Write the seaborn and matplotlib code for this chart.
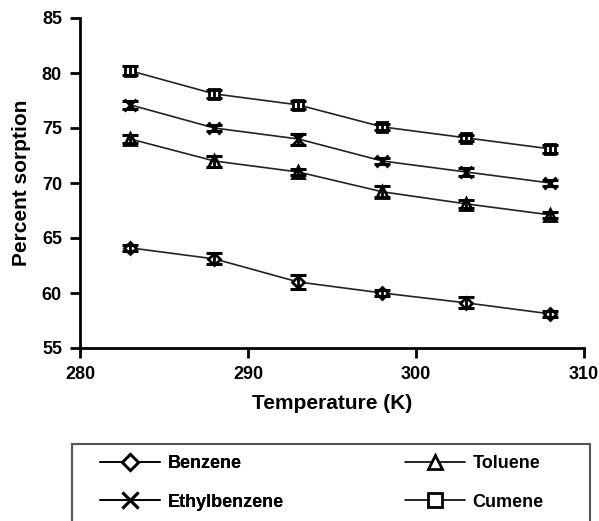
import matplotlib
matplotlib.use("Agg")
import matplotlib.pyplot as plt
from matplotlib.lines import Line2D
from matplotlib.patches import Rectangle
import seaborn as sns
import pandas as pd

# Sorption data
temperature = [283, 288, 293, 298, 303, 308]
compounds = ["Benzene", "Toluene", "Ethylbenzene", "Cumene"]
benzene = [64.1, 63.1, 61.0, 60.0, 59.1, 58.1]
toluene = [74.0, 72.0, 71.0, 69.2, 68.1, 67.1]
ethylbenzene = [77.1, 75.0, 74.0, 72.0, 71.0, 70.0]
cumene = [80.2, 78.1, 77.1, 75.1, 74.1, 73.1]
benzene_err = [0.3, 0.5, 0.6, 0.3, 0.5, 0.3]
toluene_err = [0.4, 0.5, 0.3, 0.5, 0.4, 0.3]
ethylbenzene_err = [0.4, 0.3, 0.5, 0.3, 0.4, 0.3]
cumene_err = [0.4, 0.4, 0.4, 0.3, 0.3, 0.4]
x_ticks = [280, 290, 300, 310]
y_ticks = [55, 60, 65, 70, 75, 80, 85]

values = {"Benzene": benzene, "Toluene": toluene,
          "Ethylbenzene": ethylbenzene, "Cumene": cumene}
errors = {"Benzene": benzene_err, "Toluene": toluene_err,
          "Ethylbenzene": ethylbenzene_err, "Cumene": cumene_err}
markers = {"Benzene": "D", "Toluene": "^", "Ethylbenzene": "x", "Cumene": "s"}
msizes = {"Benzene": 6, "Toluene": 8, "Ethylbenzene": 9, "Cumene": 7.5}

rows = []
for c in compounds:
    for t, v in zip(temperature, values[c]):
        rows.append({"Temperature": t, "Sorption": v, "Compound": c})
df = pd.DataFrame(rows)

sns.set_theme(style="ticks")
plt.rcParams["font.family"] = ["Liberation Sans", "DejaVu Sans"]
plt.rcParams["font.weight"] = "bold"
plt.rcParams["text.color"] = "black"
plt.rcParams["axes.labelcolor"] = "black"
plt.rcParams["xtick.color"] = "black"
plt.rcParams["ytick.color"] = "black"

fig = plt.figure(figsize=(5.99, 5.21), dpi=100)
ax = fig.add_axes([80 / 599, 1 - 348 / 521, (584 - 80) / 599, (348 - 18) / 521])

for c in compounds:
    sub = df[df["Compound"] == c]
    sns.lineplot(data=sub, x="Temperature", y="Sorption", ax=ax, color="#222222",
                 linewidth=1.2, legend=False, zorder=2)
    ax.plot(temperature, values[c], linestyle="none", marker=markers[c],
            markersize=msizes[c], markerfacecolor="white",
            markeredgecolor="black", markeredgewidth=2.0, zorder=3)
    ax.errorbar(temperature, values[c], yerr=errors[c], fmt="none",
                ecolor="black", elinewidth=2.0, capsize=6, capthick=2.2, zorder=4)

ax.set_xlim(280, 310)
ax.set_ylim(55, 85)
ax.set_xticks(x_ticks)
ax.set_yticks(y_ticks)
ax.tick_params(axis="both", labelsize=13, width=2, length=7, colors="black",
               pad=6)
for lbl in ax.get_xticklabels() + ax.get_yticklabels():
    lbl.set_fontweight("bold")
ax.set_xlabel("Temperature (K)", fontsize=15, fontweight="bold", labelpad=8,
              color="black")
ax.set_ylabel("Percent sorption", fontsize=15, fontweight="bold", labelpad=8,
              color="black")
for side in ["left", "bottom"]:
    ax.spines[side].set_linewidth(2)
    ax.spines[side].set_color("black")
sns.despine(ax=ax)

# Legend frame running off the bottom of the canvas
fig.patches.append(Rectangle((72 / 599, -0.2), (590 - 72) / 599, 0.2 + 1 - 444 / 521,
                             transform=fig.transFigure, fill=False,
                             edgecolor="#555555", linewidth=1.5))


def handle(c):
    return Line2D([], [], color="black", linewidth=1.2, marker=markers[c],
                  markersize=msizes[c] + 2, markerfacecolor="white",
                  markeredgecolor="black", markeredgewidth=2.0)


leg_kw = dict(loc="upper left", frameon=False, borderpad=0, borderaxespad=0,
              handlelength=3.3, handletextpad=0.45, labelspacing=1.2,
              prop={"size": 13, "weight": "bold"}, labelcolor="black")
leg1 = fig.legend([handle("Benzene"), handle("Ethylbenzene")],
                  ["Benzene", "Ethylbenzene"],
                  bbox_to_anchor=(100 / 599, 1 - 455 / 521), **leg_kw)
fig.add_artist(leg1)
fig.legend([handle("Toluene"), handle("Cumene")], ["Toluene", "Cumene"],
           bbox_to_anchor=(405 / 599, 1 - 455 / 521), **leg_kw)

fig.savefig("out.png", dpi=100)
